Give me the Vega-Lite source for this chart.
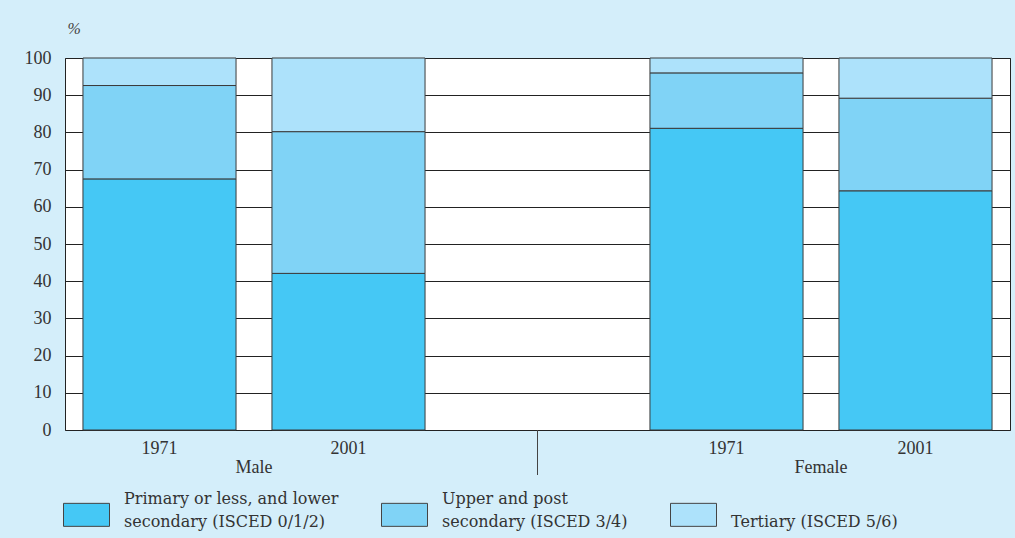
{
  "$schema": "https://vega.github.io/schema/vega-lite/v6.json",
  "width": 945,
  "height": 372,
  "autosize": "none",
  "padding": {"left": 65, "top": 58, "right": 5, "bottom": 108},
  "background": "#d4eefa",
  "data": {
    "values": [
      {"slot": "M1971", "sex": "Male", "year": 1971, "rank": 1, "level": "Primary or less, and lower secondary (ISCED 0/1/2)", "value": 67.5},
      {"slot": "M1971", "sex": "Male", "year": 1971, "rank": 2, "level": "Upper and post secondary (ISCED 3/4)", "value": 25.1},
      {"slot": "M1971", "sex": "Male", "year": 1971, "rank": 3, "level": "Tertiary (ISCED 5/6)", "value": 7.4},
      {"slot": "M2001", "sex": "Male", "year": 2001, "rank": 1, "level": "Primary or less, and lower secondary (ISCED 0/1/2)", "value": 42.1},
      {"slot": "M2001", "sex": "Male", "year": 2001, "rank": 2, "level": "Upper and post secondary (ISCED 3/4)", "value": 38.1},
      {"slot": "M2001", "sex": "Male", "year": 2001, "rank": 3, "level": "Tertiary (ISCED 5/6)", "value": 19.8},
      {"slot": "F1971", "sex": "Female", "year": 1971, "rank": 1, "level": "Primary or less, and lower secondary (ISCED 0/1/2)", "value": 81.1},
      {"slot": "F1971", "sex": "Female", "year": 1971, "rank": 2, "level": "Upper and post secondary (ISCED 3/4)", "value": 14.9},
      {"slot": "F1971", "sex": "Female", "year": 1971, "rank": 3, "level": "Tertiary (ISCED 5/6)", "value": 4.0},
      {"slot": "F2001", "sex": "Female", "year": 2001, "rank": 1, "level": "Primary or less, and lower secondary (ISCED 0/1/2)", "value": 64.3},
      {"slot": "F2001", "sex": "Female", "year": 2001, "rank": 2, "level": "Upper and post secondary (ISCED 3/4)", "value": 24.9},
      {"slot": "F2001", "sex": "Female", "year": 2001, "rank": 3, "level": "Tertiary (ISCED 5/6)", "value": 10.8}
    ]
  },
  "layer": [
    {
      "mark": {"type": "bar", "width": {"band": 0.81}, "stroke": "#3a3a3a", "strokeWidth": 1},
      "encoding": {
        "x": {
          "field": "slot",
          "type": "nominal",
          "scale": {"domain": ["M1971", "M2001", "gap", "F1971", "F2001"], "paddingInner": 0, "paddingOuter": 0},
          "axis": {
            "title": null,
            "ticks": false,
            "domain": false,
            "grid": false,
            "labelAngle": 0,
            "labelPadding": 9,
            "labelExpr": "datum.value == 'gap' ? '' : slice(datum.value, 1)",
            "labelFont": "Liberation Serif",
            "labelFontSize": 18,
            "labelColor": "#333333"
          }
        },
        "y": {
          "field": "value",
          "type": "quantitative",
          "stack": "zero",
          "scale": {"domain": [0, 100], "nice": false},
          "axis": {
            "values": [0, 10, 20, 30, 40, 50, 60, 70, 80, 90, 100],
            "labelOverlap": false,
            "ticks": false,
            "domain": false,
            "grid": true,
            "gridColor": "#222222",
            "gridWidth": 1,
            "gridOpacity": 1,
            "labelPadding": 14,
            "labelFont": "Liberation Serif",
            "labelFontSize": 18,
            "labelColor": "#333333",
            "title": "%",
            "titleAngle": 0,
            "titleX": 2,
            "titleY": -30,
            "titleAlign": "left",
            "titleBaseline": "middle",
            "titleFont": "Liberation Serif",
            "titleFontStyle": "italic",
            "titleFontWeight": "normal",
            "titleFontSize": 16,
            "titleColor": "#444444"
          }
        },
        "order": {"field": "rank", "type": "quantitative", "sort": "ascending"},
        "color": {
          "field": "level",
          "type": "nominal",
          "scale": {
            "domain": ["Primary or less, and lower secondary (ISCED 0/1/2)", "Upper and post secondary (ISCED 3/4)", "Tertiary (ISCED 5/6)"],
            "range": ["#45c8f5", "#80d3f6", "#ade2fb"]
          },
          "legend": {
            "title": null,
            "orient": "none",
            "direction": "horizontal",
            "legendX": -2,
            "legendY": 417,
            "symbolType": "M-1,0.2H1V1.2H-1Z",
            "symbolSize": 2116,
            "symbolStrokeColor": "#444444",
            "symbolStrokeWidth": 1,
            "symbolOpacity": 1,
            "labelFont": "DejaVu Serif",
            "labelFontSize": 16,
            "labelColor": "#333333",
            "labelLimit": 400,
            "labelOffset": 14,
            "labelBaseline": "middle",
            "columnPadding": 40,
            "labelExpr": "datum.label == 'Tertiary (ISCED 5/6)' ? ['', 'Tertiary (ISCED 5/6)'] : datum.label == 'Upper and post secondary (ISCED 3/4)' ? ['Upper and post', 'secondary (ISCED 3/4)'] : ['Primary or less, and lower', 'secondary (ISCED 0/1/2)']"
          }
        }
      }
    },
    {
      "transform": [{"filter": "datum.year == 2001 && datum.rank == 1"}],
      "mark": {"type": "text", "font": "Liberation Serif", "fontSize": 18, "color": "#333333", "baseline": "middle", "align": "center"},
      "encoding": {
        "x": {"field": "slot", "type": "nominal", "bandPosition": 0},
        "y": {"datum": -10.2, "type": "quantitative", "axis": {"values": [0, 10, 20, 30, 40, 50, 60, 70, 80, 90, 100]}},
        "text": {"field": "sex"}
      }
    },
    {
      "mark": {"type": "rule", "color": "#444444", "strokeWidth": 1},
      "encoding": {
        "x": {"datum": "gap", "bandPosition": 0.5},
        "y": {"datum": 0, "type": "quantitative", "axis": {"values": [0, 10, 20, 30, 40, 50, 60, 70, 80, 90, 100]}},
        "y2": {"datum": -12.1}
      }
    }
  ],
  "config": {
    "view": {"fill": "#ffffff", "stroke": "#222222", "strokeWidth": 1},
    "style": {"guide-label": {"lineHeight": 23}}
  }
}
